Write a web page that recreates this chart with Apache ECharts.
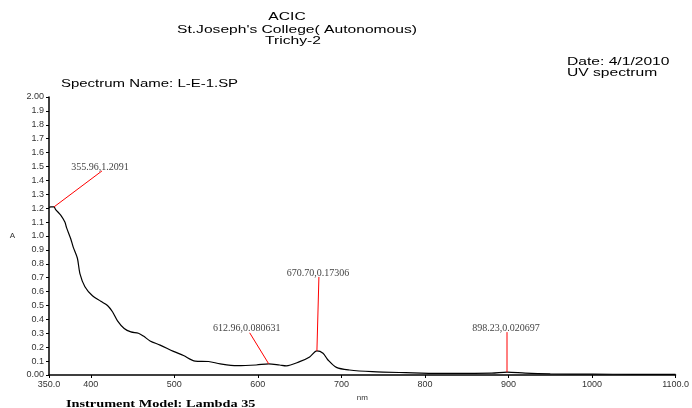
<!DOCTYPE html>
<html>
<head>
<meta charset="utf-8">
<script src="https://cdn.jsdelivr.net/npm/echarts@6/dist/echarts.min.js"></script>
<style>
html,body{margin:0;padding:0;background:#fff;}
#chart{width:692px;height:408px;}
</style>
</head>
<body>
<div id="chart"></div>
<script>
// ---- data ----
var wavelength = [350, 352, 356, 358, 364, 369, 371, 376, 379, 384, 387, 393, 402, 412, 420, 426, 432, 440, 448, 457, 463, 471, 483, 499, 511, 525, 541, 555, 575, 598, 612.96, 626, 634, 650, 662, 670.7, 678, 684, 694, 709.5, 737, 777, 817, 850, 880, 898.23, 920, 950, 1000, 1050, 1100];
var absorbance = [1.205, 1.21, 1.209, 1.19, 1.15, 1.10, 1.06, 0.98, 0.92, 0.84, 0.73, 0.635, 0.57, 0.53, 0.50, 0.455, 0.39, 0.335, 0.31, 0.30, 0.28, 0.245, 0.215, 0.17, 0.14, 0.10, 0.097, 0.08, 0.067, 0.072, 0.0806, 0.072, 0.066, 0.096, 0.13, 0.173, 0.156, 0.108, 0.055, 0.036, 0.024, 0.017, 0.012, 0.012, 0.013, 0.0207, 0.013, 0.008, 0.006, 0.005, 0.005];
var peakX = [355.96, 612.96, 670.70, 898.23];
var peakY = [1.2091, 0.080631, 0.17306, 0.020697];
var xTicks = [350, 400, 500, 600, 700, 800, 900, 1000, 1100];
var titleLines = ["ACIC", "St.Joseph's College( Autonomous)", "Trichy-2"];
var dateLines = ["Date: 4/1/2010", "UV spectrum"];
var spectrumName = "Spectrum Name: L-E-1.SP";
var instrument = "Instrument Model: Lambda 35";

// label placement (pixel offsets from the peak point: dx, dy, text dx)
var labelOffsets = [[48, -36, -2], [-19, -31, -3], [2, -74, -1], [0, -40, -1]];

var curve = wavelength.map(function (w, i) { return [w, absorbance[i]]; });
var peaks = peakX.map(function (x, i) { return [x, peakY[i]]; });
var peakLabels = peakX.map(function (x, i) { return x.toFixed(2) + ',' + String(peakY[i]); });

var SANS = '"Liberation Sans", Arial, sans-serif';
var SERIF = '"Liberation Serif", "Times New Roman", serif';
var SX = 1.42;

function hText(str, x, y, align, font, sx) {
  return {
    type: 'text', x: x, y: y, scaleX: sx, silent: true,
    style: { text: str, font: font, fill: '#000', textAlign: align, align: align, textVerticalAlign: 'middle', verticalAlign: 'middle' }
  };
}

var chart = echarts.init(document.getElementById('chart'), null, { renderer: 'canvas' });
chart.setOption({
  animation: false,
  backgroundColor: '#fff',
  grid: { left: 49, right: 14, top: 97, bottom: 33, containLabel: false },
  xAxis: {
    type: 'value', min: 350, max: 1100, interval: 50,
    name: 'nm', nameLocation: 'middle', nameGap: 10,
    nameTextStyle: { fontFamily: SANS, fontSize: 8, color: '#333' },
    axisLine: { lineStyle: { color: '#000', width: 1.5 } },
    axisTick: { show: true, length: 3, lineStyle: { color: '#000' }, customValues: xTicks },
    axisLabel: {
      customValues: xTicks, margin: 5, fontFamily: SANS, fontSize: 9, color: '#333',
      formatter: function (v) { return (v === 350 || v === 1100) ? v.toFixed(1) : String(v); }
    },
    splitLine: { show: false }
  },
  yAxis: {
    type: 'value', min: 0, max: 2, interval: 0.1,
    name: 'A', nameLocation: 'middle', nameGap: 34, nameRotate: 0,
    nameTextStyle: { fontFamily: SANS, fontSize: 8, color: '#333' },
    axisLine: { show: true, lineStyle: { color: '#000', width: 1.5 } },
    axisTick: { show: true, length: 3, lineStyle: { color: '#000' } },
    axisLabel: {
      margin: 5, fontFamily: SANS, fontSize: 9, color: '#333',
      formatter: function (v) {
        if (Math.abs(v) < 1e-9 || Math.abs(v - 2) < 1e-9) return v.toFixed(2);
        return v.toFixed(1);
      }
    },
    splitLine: { show: false }
  },
  graphic: [
    hText(titleLines[0], 287, 17, 'center', '11px ' + SANS, SX),
    hText(titleLines[1], 297, 30, 'center', '11px ' + SANS, SX),
    hText(titleLines[2], 293, 41, 'center', '11px ' + SANS, SX),
    hText(dateLines[0], 567, 62, 'left', '11px ' + SANS, SX),
    hText(dateLines[1], 567, 73, 'left', '11px ' + SANS, SX),
    hText(spectrumName, 61, 84, 'left', '11px ' + SANS, 1.36),
    hText(instrument, 66, 404, 'left', 'bold 11px ' + SERIF, 1.3)
  ],
  series: [
    {
      type: 'line', data: curve, symbol: 'none', smooth: 0.3, silent: true,
      lineStyle: { color: '#000', width: 1.2 }, z: 2
    },
    {
      type: 'custom', data: peaks, silent: true, z: 3,
      renderItem: function (params, api) {
        var p = api.coord([api.value(0), api.value(1)]);
        var off = labelOffsets[params.dataIndex];
        var ex = p[0] + off[0], ey = p[1] + off[1];
        return {
          type: 'group',
          children: [
            { type: 'line', shape: { x1: p[0], y1: p[1], x2: ex, y2: ey }, style: { stroke: '#ff0000', lineWidth: 1 } },
            {
              type: 'text', x: ex + off[2], y: ey - 4,
              style: { text: peakLabels[params.dataIndex], font: '10px ' + SERIF, fill: '#444', textAlign: 'center', align: 'center', textVerticalAlign: 'middle', verticalAlign: 'middle' }
            }
          ]
        };
      }
    }
  ]
});
</script>
</body>
</html>
